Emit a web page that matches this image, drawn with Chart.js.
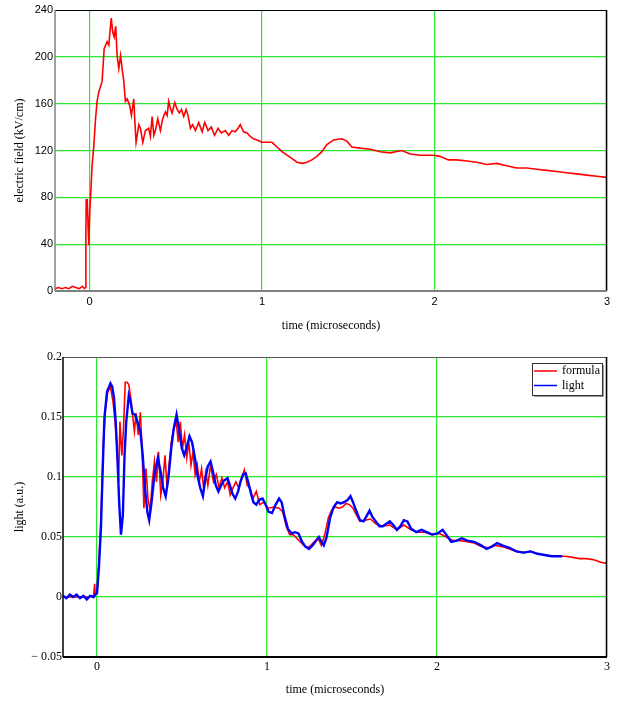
<!DOCTYPE html>
<html>
<head>
<meta charset="utf-8">
<script src="https://cdn.jsdelivr.net/npm/chart.js@4"></script>
<style>
  body { margin: 0; background: #fff; }
  #top { position: absolute; left: 0; top: 0; width: 617px; height: 340px; }
  #bottom { position: absolute; left: 0; top: 340px; width: 617px; height: 362px; }
</style>
</head>
<body>
<div id="top"><canvas id="fieldChart"></canvas></div>
<div id="bottom"><canvas id="lightChart"></canvas></div>
<script>
// time axis ticks (microseconds)
const timeTicks = [0, 1, 2, 3];
const fieldTicks = [0, 40, 80, 120, 160, 200, 240];
const lightTicks = [-0.05, 0, 0.05, 0.1, 0.15, 0.2];
const lightTickLabels = ['\u2212 0.05', '0', '0.05', '0.1', '0.15', '0.2'];

// electric field (kV/cm)
const fieldT = [-0.2, -0.18, -0.16, -0.14, -0.12, -0.1, -0.08, -0.06, -0.04, -0.03, -0.023,
  -0.021, -0.019, -0.013, -0.008, -0.004, 0.002, 0.006, 0.015, 0.025, 0.035, 0.044, 0.054, 0.073,
  0.085, 0.102, 0.112, 0.126, 0.135, 0.143, 0.152, 0.16, 0.17, 0.18, 0.189, 0.199, 0.208, 0.218,
  0.232, 0.243, 0.257, 0.262, 0.27, 0.286, 0.295, 0.309, 0.324, 0.343, 0.353, 0.363, 0.373, 0.382,
  0.396, 0.411, 0.424, 0.44, 0.45, 0.459, 0.469, 0.479, 0.494, 0.508, 0.521, 0.533, 0.546, 0.56,
  0.571, 0.585, 0.598, 0.614, 0.633, 0.653, 0.668, 0.687, 0.706, 0.725, 0.745, 0.764, 0.787, 0.807,
  0.826, 0.845, 0.861, 0.874, 0.893, 0.913, 0.932, 0.951, 0.971, 1.0, 1.029, 1.058, 1.087, 1.116,
  1.145, 1.174, 1.203, 1.232, 1.26, 1.289, 1.318, 1.347, 1.376, 1.415, 1.463, 1.492, 1.521, 1.569,
  1.627, 1.685, 1.743, 1.81, 1.859, 1.917, 1.994, 2.032, 2.08, 2.129, 2.187, 2.245, 2.303, 2.361,
  2.418, 2.476, 2.534, 2.592, 2.65, 2.708, 2.766, 2.824, 2.882, 2.94, 3.0];
const fieldKV = [2, 3, 2, 3, 2, 4, 3, 2, 4, 2, 3,
  48, 78, 78, 55, 39, 70, 80, 107, 124, 147, 162, 170, 179,
  207, 213, 210, 233, 221, 217, 226, 201, 190, 201, 190, 179, 162, 164,
  159, 150, 164, 147, 127, 142, 139, 127, 137, 139, 132, 149, 133, 137,
  147, 137, 147, 153, 150, 162, 156, 152, 161, 155, 152, 155, 149, 155,
  150, 139, 142, 137, 144, 136, 144, 137, 140, 133, 139, 135, 137, 133,
  137, 136, 139, 142, 136, 135, 132, 130, 129, 127, 127, 127, 123, 119,
  116, 113, 110, 109, 110, 112, 115, 119, 125, 129, 130, 128, 123, 122,
  121, 119, 118, 120, 117, 116, 116, 115, 112, 112, 111, 110, 108, 109,
  107, 105, 105, 104, 103, 102, 101, 100, 99, 98, 97];

// light (a.u.), measured curve
const lightT = [-0.2, -0.18, -0.16, -0.14, -0.12, -0.1, -0.08, -0.06, -0.04, -0.02, -0.01, 0,
  0.011, 0.023, 0.036, 0.044, 0.059, 0.079, 0.09, 0.1, 0.11, 0.121, 0.131, 0.141, 0.152, 0.162,
  0.172, 0.187, 0.197, 0.209, 0.224, 0.238, 0.255, 0.269, 0.282, 0.296, 0.307, 0.321, 0.338, 0.358,
  0.375, 0.389, 0.404, 0.42, 0.437, 0.451, 0.468, 0.482, 0.499, 0.513, 0.528, 0.544, 0.559, 0.576,
  0.59, 0.607, 0.623, 0.638, 0.652, 0.668, 0.683, 0.699, 0.714, 0.73, 0.747, 0.768, 0.782, 0.797,
  0.813, 0.83, 0.844, 0.859, 0.875, 0.889, 0.906, 0.92, 0.937, 0.954, 0.974, 0.989, 1.009, 1.03,
  1.051, 1.071, 1.086, 1.102, 1.123, 1.144, 1.164, 1.185, 1.206, 1.226, 1.247, 1.268, 1.289, 1.305,
  1.32, 1.334, 1.351, 1.371, 1.392, 1.413, 1.433, 1.454, 1.475, 1.491, 1.506, 1.527, 1.547, 1.568,
  1.588, 1.603, 1.619, 1.64, 1.661, 1.681, 1.702, 1.723, 1.743, 1.764, 1.785, 1.805, 1.826, 1.847,
  1.878, 1.909, 1.94, 1.971, 2.002, 2.033, 2.054, 2.084, 2.116, 2.146, 2.178, 2.219, 2.26, 2.291,
  2.322, 2.354, 2.384, 2.426, 2.467, 2.509, 2.55, 2.591, 2.633, 2.674, 2.736];
const lightV = [0.001, -0.001, 0.002, 0, 0.002, -0.001, 0.001, -0.002, 0.001, 0, 0.002, 0.003,
  0.024, 0.057, 0.118, 0.15, 0.171, 0.178, 0.175, 0.166, 0.146, 0.113, 0.077, 0.052, 0.068, 0.118,
  0.146, 0.168, 0.163, 0.153, 0.152, 0.146, 0.138, 0.118, 0.091, 0.071, 0.064, 0.079, 0.102, 0.116,
  0.104, 0.091, 0.084, 0.099, 0.124, 0.14, 0.152, 0.14, 0.124, 0.118, 0.125, 0.134, 0.129, 0.116,
  0.102, 0.091, 0.084, 0.099, 0.109, 0.113, 0.104, 0.093, 0.088, 0.093, 0.097, 0.099, 0.093, 0.086,
  0.082, 0.088, 0.096, 0.102, 0.103, 0.096, 0.086, 0.079, 0.077, 0.081, 0.082, 0.078, 0.071, 0.07,
  0.077, 0.082, 0.079, 0.068, 0.057, 0.053, 0.054, 0.053, 0.046, 0.042, 0.04, 0.043, 0.047, 0.05,
  0.046, 0.043, 0.05, 0.066, 0.075, 0.079, 0.078, 0.079, 0.081, 0.084, 0.079, 0.071, 0.064, 0.063,
  0.068, 0.072, 0.067, 0.063, 0.059, 0.059, 0.061, 0.063, 0.06, 0.056, 0.059, 0.064, 0.063, 0.057,
  0.054, 0.056, 0.054, 0.052, 0.053, 0.056, 0.052, 0.046, 0.047, 0.049, 0.047, 0.046, 0.043, 0.04,
  0.042, 0.045, 0.043, 0.041, 0.038, 0.037, 0.038, 0.036, 0.035, 0.034, 0.034];

// light (a.u.), formula curve
const formulaT = [-0.2, -0.15, -0.1, -0.05, -0.02, -0.014, -0.01, 0,
  0.011, 0.023, 0.036, 0.048, 0.063, 0.079, 0.094, 0.106, 0.116, 0.127, 0.135, 0.146, 0.156, 0.166,
  0.176, 0.187, 0.199, 0.209, 0.22, 0.23, 0.243, 0.255, 0.265, 0.276, 0.288, 0.3, 0.313, 0.325,
  0.338, 0.35, 0.362, 0.375, 0.387, 0.4, 0.412, 0.424, 0.437, 0.451, 0.466, 0.478, 0.49, 0.503,
  0.515, 0.528, 0.54, 0.553, 0.565, 0.577, 0.59, 0.602, 0.615, 0.627, 0.64, 0.652, 0.668, 0.685,
  0.702, 0.718, 0.735, 0.751, 0.768, 0.784, 0.8, 0.817, 0.834, 0.85, 0.867, 0.884, 0.9, 0.917,
  0.937, 0.958, 0.979, 1.009, 1.04, 1.071, 1.092, 1.113, 1.133, 1.154, 1.175, 1.195, 1.216, 1.237,
  1.258, 1.278, 1.299, 1.32, 1.34, 1.361, 1.382, 1.402, 1.423, 1.444, 1.464, 1.485, 1.506, 1.527,
  1.547, 1.578, 1.609, 1.64, 1.681, 1.723, 1.764, 1.805, 1.847, 1.888, 1.93, 1.971, 2.012, 2.054,
  2.095, 2.136, 2.178, 2.219, 2.26, 2.302, 2.343, 2.384, 2.426, 2.467, 2.509, 2.55, 2.591, 2.633,
  2.674, 2.715, 2.756, 2.798, 2.839, 2.88, 2.922, 2.963, 3.0];
const formulaV = [0, 0, 0, 0, 0.001, 0.011, 0.002, 0.003,
  0.029, 0.063, 0.124, 0.154, 0.171, 0.175, 0.163, 0.147, 0.127, 0.096, 0.146, 0.118, 0.14, 0.179,
  0.179, 0.177, 0.166, 0.152, 0.138, 0.153, 0.135, 0.154, 0.124, 0.074, 0.107, 0.082, 0.071, 0.096,
  0.113, 0.096, 0.121, 0.085, 0.096, 0.118, 0.091, 0.11, 0.129, 0.14, 0.146, 0.129, 0.146, 0.124,
  0.135, 0.116, 0.129, 0.11, 0.121, 0.102, 0.11, 0.096, 0.107, 0.091, 0.104, 0.093, 0.11, 0.096,
  0.102, 0.091, 0.099, 0.091, 0.096, 0.085, 0.091, 0.096, 0.091, 0.099, 0.106, 0.093, 0.091, 0.082,
  0.088, 0.077, 0.079, 0.074, 0.075, 0.074, 0.071, 0.059, 0.052, 0.052, 0.049, 0.046, 0.043, 0.041,
  0.043, 0.046, 0.049, 0.043, 0.052, 0.066, 0.073, 0.075, 0.074, 0.075, 0.078, 0.077, 0.074, 0.068,
  0.063, 0.064, 0.065, 0.061, 0.059, 0.06, 0.056, 0.06, 0.056, 0.054, 0.054, 0.052, 0.053, 0.05,
  0.047, 0.047, 0.046, 0.045, 0.042, 0.041, 0.043, 0.042, 0.04, 0.038, 0.037, 0.038, 0.036, 0.035,
  0.034, 0.034, 0.034, 0.033, 0.032, 0.032, 0.031, 0.029, 0.028];

const toPoints = (xs, ys) => xs.map((x, i) => ({ x: x, y: ys[i] }));

const green = '#2ee62e';
const serif = '"Liberation Serif", "Times New Roman", serif';
const sans = '"Liberation Sans", Arial, sans-serif';

// plot frame: gray or black edges drawn over the grid
function framePlugin(colors) {
  return {
    id: 'frame',
    afterDraw(chart) {
      const { ctx, chartArea: a } = chart;
      const edge = (x1, y1, x2, y2, c, w) => {
        ctx.save();
        ctx.strokeStyle = c;
        ctx.lineWidth = w;
        ctx.beginPath();
        ctx.moveTo(x1, y1);
        ctx.lineTo(x2, y2);
        ctx.stroke();
        ctx.restore();
      };
      edge(a.left, a.top + 0.5, a.right, a.top + 0.5, colors.top, 1);
      edge(a.right - 0.5, a.top, a.right - 0.5, a.bottom, colors.right, 1.5);
      edge(a.left, a.bottom, a.right, a.bottom, colors.bottom, 2);
      edge(a.left, a.top, a.left, a.bottom, colors.left, 1.5);
    }
  };
}

new Chart(document.getElementById('fieldChart'), {
  type: 'line',
  data: {
    datasets: [{
      label: 'electric field',
      data: toPoints(fieldT, fieldKV),
      borderColor: '#ff0000',
      borderWidth: 1.6,
      pointRadius: 0,
      tension: 0
    }]
  },
  options: {
    responsive: true,
    maintainAspectRatio: false,
    animation: false,
    layout: { padding: { top: 10, right: 10, left: 0, bottom: 0 } },
    plugins: { legend: { display: false }, tooltip: { enabled: false } },
    scales: {
      x: {
        type: 'linear', min: -0.2, max: 3,
        afterBuildTicks: s => { s.ticks = timeTicks.map(v => ({ value: v })); },
        afterFit: s => { s.height = 49; },
        grid: { color: green, lineWidth: 1.2, drawTicks: false },
        border: { display: false },
        ticks: { padding: 4, color: '#000', font: { family: sans, size: 11 }, maxRotation: 0 },
        title: { display: true, text: 'time (microseconds)', color: '#000',
          font: { family: serif, size: 12 }, padding: { bottom: 7 } }
      },
      y: {
        min: 0, max: 240,
        afterBuildTicks: s => { s.ticks = fieldTicks.map(v => ({ value: v })); },
        afterFit: s => { s.width = 55; },
        grid: { color: c => (c.tick.value === 0 || c.tick.value === 240) ? 'rgba(0,0,0,0)' : green, lineWidth: 1.2, drawTicks: false },
        border: { display: false },
        ticks: { padding: 2, color: '#000', font: { family: sans, size: 11 } },
        title: { display: true, text: 'electric field (kV/cm)', color: '#000',
          font: { family: serif, size: 12 }, padding: { top: 13 } }
      }
    }
  },
  plugins: [framePlugin({ top: '#000', right: '#000', bottom: '#808080', left: '#808080' })]
});

// small boxed legend in the top right corner of the light plot
const lightLegend = {
  id: 'boxLegend',
  afterDraw(chart) {
    const { ctx, chartArea: a } = chart;
    const x = Math.round(a.right - 75), y = Math.round(a.top + 6), w = 70, h = 32;
    ctx.save();
    ctx.fillStyle = '#9a9a9a';
    ctx.fillRect(x + 2, y + 2, w, h);
    ctx.fillStyle = '#fff';
    ctx.fillRect(x, y, w, h);
    ctx.strokeStyle = '#333';
    ctx.lineWidth = 1;
    ctx.strokeRect(x + 0.5, y + 0.5, w, h);
    chart.data.datasets.forEach((d, i) => {
      const ly = y + 8 + i * 14.5;
      ctx.strokeStyle = d.borderColor;
      ctx.lineWidth = 1.5;
      ctx.beginPath();
      ctx.moveTo(x + 2, ly);
      ctx.lineTo(x + 25, ly);
      ctx.stroke();
      ctx.fillStyle = '#000';
      ctx.font = '12px ' + serif;
      ctx.textBaseline = 'middle';
      ctx.fillText(d.label, x + 30, ly);
    });
    ctx.restore();
  }
};

new Chart(document.getElementById('lightChart'), {
  type: 'line',
  data: {
    datasets: [{
      label: 'formula',
      data: toPoints(formulaT, formulaV),
      borderColor: '#ff0000',
      borderWidth: 1.6,
      pointRadius: 0,
      tension: 0,
      order: 2
    }, {
      label: 'light',
      data: toPoints(lightT, lightV),
      borderColor: '#0000ff',
      borderWidth: 2.4,
      pointRadius: 0,
      tension: 0,
      order: 1
    }]
  },
  options: {
    responsive: true,
    maintainAspectRatio: false,
    animation: false,
    layout: { padding: { top: 17, right: 10, left: 0, bottom: 0 } },
    plugins: { legend: { display: false }, tooltip: { enabled: false } },
    scales: {
      x: {
        type: 'linear', min: -0.2, max: 3,
        afterBuildTicks: s => { s.ticks = timeTicks.map(v => ({ value: v })); },
        afterFit: s => { s.height = 45; },
        grid: { color: green, lineWidth: 1.2, drawTicks: false },
        border: { display: false },
        ticks: { padding: 3, color: '#000', font: { family: serif, size: 12 }, maxRotation: 0 },
        title: { display: true, text: 'time (microseconds)', color: '#000',
          font: { family: serif, size: 12 }, padding: { bottom: 5 } }
      },
      y: {
        min: -0.05, max: 0.2,
        afterBuildTicks: s => { s.ticks = lightTicks.map(v => ({ value: v })); },
        afterFit: s => { s.width = 63; },
        grid: { color: c => (c.index === 0 || c.index === lightTicks.length - 1) ? 'rgba(0,0,0,0)' : green, lineWidth: 1.2, drawTicks: false },
        border: { display: false },
        ticks: { padding: 1, color: '#000', font: { family: serif, size: 12 },
          callback: (v, i) => lightTickLabels[i] },
        title: { display: true, text: 'light (a.u.)', color: '#000',
          font: { family: serif, size: 12 }, padding: { top: 13 } }
      }
    }
  },
  plugins: [framePlugin({ top: '#555', right: '#000', bottom: '#000', left: '#000' }), lightLegend]
});
</script>
</body>
</html>
